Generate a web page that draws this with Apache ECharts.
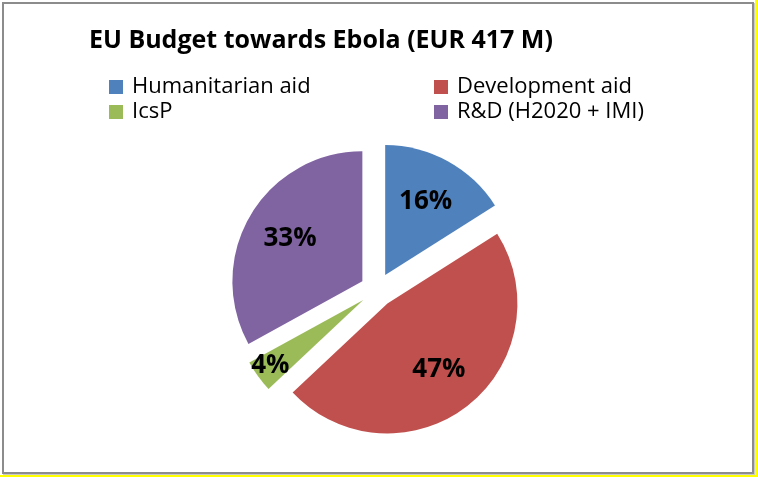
<!DOCTYPE html>
<html>
<head>
<meta charset="utf-8">
<script src="https://cdn.jsdelivr.net/npm/echarts@6/dist/echarts.min.js"></script>
<style>
html,body{margin:0;padding:0;background:#fff;}
#chart{width:758px;height:477px;}
</style>
</head>
<body>
<div id="chart"></div>
<script>
const titleText = 'EU Budget towards Ebola (EUR 417 M)';
const categories = ['Humanitarian aid', 'Development aid', 'IcsP', 'R&D (H2020 + IMI)'];
const percentValues = [16, 47, 4, 33];
const sliceColors = ['#4F81BD', '#C0504D', '#9BBB59', '#8064A2'];

const FONT = '"Open Sans"';
const chart = echarts.init(document.getElementById('chart'), null, {renderer: 'canvas'});

const center = [377, 290];
const R = 130;
const OFF = 17;

const pieData = categories.map((n, i) => ({
  name: n, value: percentValues[i], selected: true,
  itemStyle: {color: sliceColors[i]}
}));
const labelData = categories.map((n, i) => ({name: n, value: percentValues[i], selected: true}));

const legendText = {fontFamily: FONT, fontSize: 22, color: '#000', padding: [0, 0, 0, 4]};

const option = {
  animation: false,
  backgroundColor: '#ffffff',
  title: {
    text: titleText, left: 89, top: 28, padding: 0,
    textStyle: {fontFamily: FONT, fontWeight: 'bold', fontSize: 25, color: '#000'}
  },
  legend: [
    {
      data: [categories[0], categories[2]], orient: 'vertical', left: 109, top: 76, padding: 0,
      itemWidth: 14, itemHeight: 14, itemGap: 3, icon: 'rect', selectedMode: false,
      textStyle: legendText
    },
    {
      data: [categories[1], categories[3]], orient: 'vertical', left: 434, top: 76, padding: 0,
      itemWidth: 14, itemHeight: 14, itemGap: 3, icon: 'rect', selectedMode: false,
      textStyle: legendText
    }
  ],
  graphic: [
    {type: 'rect', shape: {x: 755, y: 0, width: 3, height: 477}, style: {fill: '#ffff00'}, silent: true},
    {type: 'rect', shape: {x: 0, y: 475, width: 758, height: 2}, style: {fill: '#ffff00'}, silent: true},
    {type: 'rect', shape: {x: 3, y: 3, width: 750, height: 470}, style: {fill: 'none', stroke: '#8c8c8c', lineWidth: 2}, silent: true},
    {type: 'line', shape: {x1: 754.5, y1: 3, x2: 754.5, y2: 474}, style: {stroke: '#c8c8c8', lineWidth: 1}, silent: true},
    {type: 'line', shape: {x1: 3, y1: 474.5, x2: 755, y2: 474.5}, style: {stroke: '#c8c8c8', lineWidth: 1}, silent: true}
  ],
  series: [
    {
      type: 'pie', center: center, radius: [0, R], startAngle: 90, clockwise: true,
      selectedMode: 'multiple', selectedOffset: OFF, silent: true,
      label: {show: false}, labelLine: {show: false},
      emphasis: {disabled: true},
      data: pieData
    },
    {
      type: 'pie', center: center, radius: [32, R], startAngle: 90, clockwise: true,
      selectedMode: 'multiple', selectedOffset: OFF, silent: true,
      itemStyle: {color: 'rgba(0,0,0,0)'},
      label: {
        show: true, position: 'inside', formatter: '{c}%',
        fontFamily: FONT, fontWeight: 'bold', fontSize: 26, color: '#000'
      },
      labelLine: {show: false},
      labelLayout: function (p) {
        if (percentValues[p.dataIndex] < 8) return {dx: -25, dy: 16};
        return {};
      },
      emphasis: {disabled: true},
      data: labelData
    }
  ]
};
chart.setOption(option);
</script>
</body>
</html>
